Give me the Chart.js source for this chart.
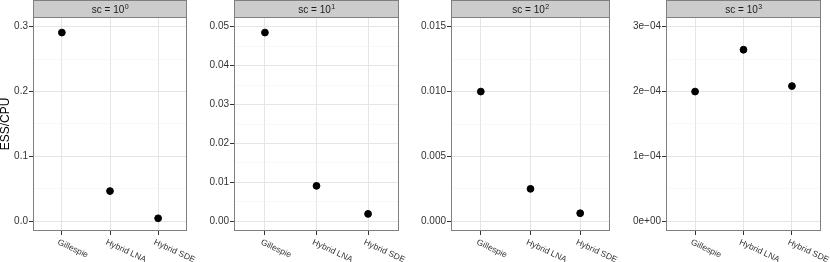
<!DOCTYPE html>
<html>
<head>
<meta charset="utf-8">
<script src="https://cdn.jsdelivr.net/npm/chart.js@4.4.1/dist/chart.umd.min.js"></script>
<style>
  html, body { margin: 0; padding: 0; background: #fff; }
  #wrap { position: relative; width: 830px; height: 262px; }
  #wrap canvas { position: absolute; left: 0; top: 0; }
</style>
</head>
<body>
<div id="wrap">
  <canvas id="p0" width="830" height="262"></canvas>
  <canvas id="p1" width="830" height="262"></canvas>
  <canvas id="p2" width="830" height="262"></canvas>
  <canvas id="p3" width="830" height="262"></canvas>
</div>
<script>
// --- data ---
const categories = ['Gillespie', 'Hybrid LNA', 'Hybrid SDE'];
const scExponents = ['0', '1', '2', '3'];

const essCpuSc0 = [0.291, 0.0466, 0.0046];
const essCpuSc1 = [0.0485, 0.0091, 0.0019];
const essCpuSc2 = [0.0100, 0.0025, 0.00062];
const essCpuSc3 = [2.0e-4, 2.645e-4, 2.085e-4];

const yTicksSc0 = [0, 0.1, 0.2, 0.3];
const yLabelsSc0 = ['0.0', '0.1', '0.2', '0.3'];
const yTicksSc1 = [0, 0.01, 0.02, 0.03, 0.04, 0.05];
const yLabelsSc1 = ['0.00', '0.01', '0.02', '0.03', '0.04', '0.05'];
const yTicksSc2 = [0, 0.005, 0.010, 0.015];
const yLabelsSc2 = ['0.000', '0.005', '0.010', '0.015'];
const yTicksSc3 = [0, 1e-4, 2e-4, 3e-4];
const yLabelsSc3 = ['0e+00', '1e\u221204', '2e\u221204', '3e\u221204'];

const panels = [
    { id: 'p0', values: essCpuSc0, ticks: yTicksSc0, labels: yLabelsSc0, left: 33, right: 187, axisW: 33, title: true },
    { id: 'p1', values: essCpuSc1, ticks: yTicksSc1, labels: yLabelsSc1, left: 234, right: 399, axisW: 40 },
    { id: 'p2', values: essCpuSc2, ticks: yTicksSc2, labels: yLabelsSc2, left: 451, right: 610, axisW: 40 },
    { id: 'p3', values: essCpuSc3, ticks: yTicksSc3, labels: yLabelsSc3, left: 666, right: 821, axisW: 40 }
];

const PANEL_TOP = 17;
const PANEL_BOTTOM = 231;
const FONT = '"Liberation Sans", Arial, Helvetica, sans-serif';

// strip, panel border and slanted category labels (ggplot look)
const facetPlugin = {
    id: 'facet',
    beforeDraw(chart, args, opts) {
        const { ctx, chartArea: a } = chart;
        ctx.save();
        ctx.fillStyle = '#cccccc';
        ctx.fillRect(a.left, 0, a.right - a.left, a.top);
        ctx.strokeStyle = '#7f7f7f';
        ctx.lineWidth = 1;
        ctx.strokeRect(a.left + 0.5, 0.5, a.right - a.left - 1, a.top);

        // strip text: sc = 10^k
        const base = 'sc = 10';
        ctx.font = '10px ' + FONT;
        const wBase = ctx.measureText(base).width;
        ctx.font = '7px ' + FONT;
        const wSup = ctx.measureText(opts.exponent).width;
        const x0 = (a.left + a.right) / 2 - (wBase + wSup) / 2;
        ctx.fillStyle = '#1a1a1a';
        ctx.textBaseline = 'alphabetic';
        ctx.textAlign = 'left';
        ctx.font = '10px ' + FONT;
        ctx.fillText(base, x0, 13);
        ctx.font = '7px ' + FONT;
        ctx.fillText(opts.exponent, x0 + wBase + 0.5, 8.5);
        ctx.restore();
    },
    afterDraw(chart) {
        const { ctx, chartArea: a } = chart;
        const xs = chart.scales.x;
        ctx.save();
        ctx.strokeStyle = '#7f7f7f';
        ctx.lineWidth = 1;
        ctx.strokeRect(a.left + 0.5, a.top + 0.5, a.right - a.left - 1, a.bottom - a.top - 1);

        ctx.fillStyle = '#333333';
        ctx.font = '8.5px ' + FONT;
        ctx.textAlign = 'left';
        ctx.textBaseline = 'top';
        categories.forEach(function (c, i) {
            const px = xs.getPixelForValue(i);
            ctx.save();
            ctx.translate(px - 2, a.bottom + 7);
            ctx.rotate(25 * Math.PI / 180);
            ctx.fillText(c, 0, 0);
            ctx.restore();
        });
        ctx.restore();
    }
};

panels.forEach(function (p, k) {
    const top = p.ticks[p.ticks.length - 1];
    const step = p.ticks[1] - p.ticks[0];
    const ctx = document.getElementById(p.id).getContext('2d');

    new Chart(ctx, {
        type: 'scatter',
        data: {
            datasets: [{
                data: p.values.map(function (v, i) { return { x: i, y: v }; }),
                backgroundColor: '#000000',
                borderColor: '#000000',
                pointRadius: 3.4,
                pointHoverRadius: 3.4
            }]
        },
        plugins: [facetPlugin],
        options: {
            responsive: false,
            animation: false,
            events: [],
            layout: {
                padding: { left: p.left - p.axisW, right: 830 - p.right, top: PANEL_TOP, bottom: 0 }
            },
            plugins: {
                legend: { display: false },
                tooltip: { enabled: false },
                facet: { exponent: scExponents[k] }
            },
            scales: {
                x: {
                    type: 'linear',
                    min: -0.6,
                    max: categories.length - 1 + 0.6,
                    afterBuildTicks: function (scale) {
                        scale.ticks = categories.map(function (c, i) { return { value: i }; });
                    },
                    afterFit: function (scale) { scale.height = 262 - PANEL_BOTTOM; },
                    border: { display: false },
                    grid: {
                        color: '#e5e5e5',
                        lineWidth: 1,
                        drawTicks: true,
                        tickLength: 4,
                        tickColor: '#333333'
                    },
                    ticks: { display: false }
                },
                y: {
                    type: 'linear',
                    min: -0.05 * top,
                    max: 1.05 * top,
                    afterBuildTicks: function (scale) {
                        const list = [];
                        p.ticks.forEach(function (v, i) {
                            list.push({ value: v, minor: false, label: p.labels[i] });
                            list.push({ value: v + step / 2, minor: true, label: '' });
                        });
                        scale.ticks = list.filter(function (t) { return t.value <= scale.max; });
                    },
                    afterFit: function (scale) { scale.width = p.axisW; },
                    border: { display: false },
                    title: {
                        display: !!p.title,
                        text: 'ESS/CPU',
                        color: '#000000',
                        font: { family: FONT, size: 12, lineHeight: 1 },
                        padding: { top: 0, bottom: 0 }
                    },
                    grid: {
                        color: function (c) { return c.tick && c.tick.minor ? '#f4f4f4' : '#e5e5e5'; },
                        lineWidth: function (c) { return c.tick && c.tick.minor ? 0.6 : 1; },
                        drawTicks: true,
                        tickLength: 4,
                        tickColor: function (c) { return c.tick && c.tick.minor ? 'rgba(0,0,0,0)' : '#333333'; }
                    },
                    ticks: {
                        autoSkip: false,
                        padding: 1,
                        color: '#333333',
                        font: { family: FONT, size: 10 },
                        callback: function (value, index, ticks) { return ticks[index].label; }
                    }
                }
            }
        }
    });
});
</script>
</body>
</html>
